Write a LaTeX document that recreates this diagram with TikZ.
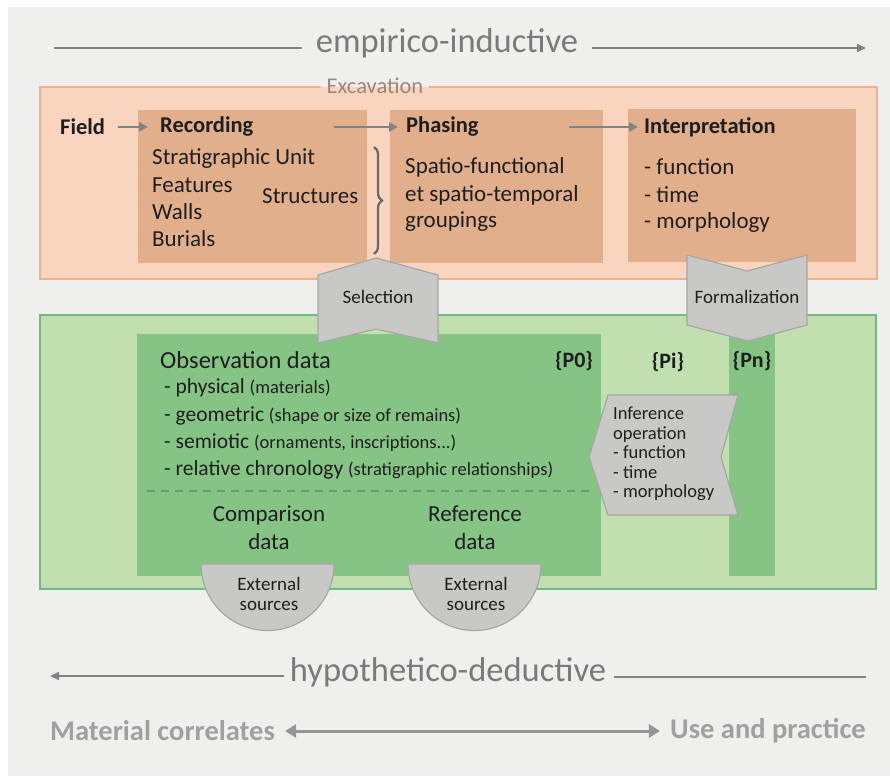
\documentclass[tikz,border=0pt]{standalone}
\usepackage{fontspec}
\setmainfont{Carlito}
\usetikzlibrary{decorations.pathreplacing,arrows.meta}
\definecolor{bgc}{HTML}{EFEFEE}
\definecolor{peach}{HTML}{F9D5BF}
\definecolor{peachline}{HTML}{EDB190}
\definecolor{tan}{HTML}{E2AF8C}
\definecolor{lgreen}{HTML}{C2DFAF}
\definecolor{greenline}{HTML}{72BA7E}
\definecolor{dgreen}{HTML}{86C486}
\definecolor{shapegray}{HTML}{C8C9C6}
\definecolor{shapeline}{HTML}{A6A7A5}
\definecolor{arrgray}{HTML}{828282}
\definecolor{biggray}{HTML}{7A7A7A}
\definecolor{lightgray}{HTML}{A0A0A0}
\definecolor{txt}{HTML}{1E1E1E}
\definecolor{exc}{HTML}{A08474}
\definecolor{dashc}{HTML}{679C6E}
\newcommand{\fs}[1]{\fontsize{#1}{#1}\selectfont}
\begin{document}
\begin{tikzpicture}[x=1pt,y=-1pt,
  lbl/.style={font=\fs{23}, text=txt, inner sep=0pt, anchor=west},
  hd/.style={font=\fs{22.5}\bfseries, text=txt, inner sep=0pt, anchor=west},
  obs/.style={font=\fs{21.5}, text=txt, inner sep=0pt, anchor=west},
  ctr/.style={font=\fs{23}, text=txt, inner sep=0pt, align=center, text depth=0pt},
  pp/.style={font=\fs{22}\bfseries, text=txt, inner sep=0pt},
  shp/.style={fill=shapegray, draw=shapeline, line width=1.2pt, line join=miter},
  arr/.style={draw=arrgray, line width=2.5pt, -{Triangle[length=9pt,width=9pt]}},
  big/.style={font=\fs{34.5}, text=biggray, inner sep=0pt},
  side/.style={font=\fs{28.5}\bfseries, text=lightgray, inner sep=0pt},
  gline/.style={draw=arrgray, line width=2pt},
  ext/.style={font=\fontsize{19}{20}\selectfont, text=txt, inner sep=0pt, align=center}
]
\useasboundingbox (0,0) rectangle (890,776);
\fill[white] (0,0) rectangle (890,776);
\fill[bgc] (8,7) rectangle (890,776);

% top
\node[big] (emp) at (447,43) {empirico-inductive};
\coordinate (eL) at (54,48);
\coordinate (eR) at (866,48);
\draw[gline] (eL) -- ([xshift=-14pt]emp.west |- eL);
\draw[gline, -{Triangle[length=9pt,width=8pt]}] ([xshift=14pt]emp.east |- eR) -- (eR);

% excavation
\fill[peach] (40,87) rectangle (877,279);
\node[font=\fs{22.5}, text=exc, inner sep=0pt] (excl) at (375,86) {Excavation};
\draw[peachline, line width=1.3pt] ([xshift=-6pt]excl.west |- 0,87) -- (40,87) -- (40,279) -- (877,279) -- (877,87) -- ([xshift=6pt]excl.east |- 0,87);
\fill[tan] (138,110) rectangle (367,263);
\fill[tan] (390,110) rectangle (603,263);
\fill[tan] (628,109) rectangle (856,262);

\node[hd] (field) at (60,127) {Field};
\node[hd] (rec) at (160,127) {Recording};
\node[hd] (pha) at (406,127) {Phasing};
\node[hd] (int) at (644,127) {Interpretation};
\draw[arr, shorten <=13pt, shorten >=12pt] (field.east) -- (rec.west);
\draw[arr, shorten <=80pt, shorten >=8pt] (rec.east) -- (pha.west);
\draw[arr, shorten <=90pt, shorten >=6pt] (pha.east) -- (int.west);

\node[lbl] (su) at (152,158) {Stratigraphic Unit};
\node[lbl] (fe) at (152,185) {Features};
\node[lbl] (wa) at (152,212) {Walls};
\node[lbl] (bu) at (152,239) {Burials};
\node[lbl] (st) at (262,196) {Structures};
\coordinate (brT) at (374,147);
\coordinate (brB) at (374,254);
\draw[decorate, decoration={brace, amplitude=8pt}, draw=arrgray!80!black, line width=2.2pt] (brT) -- (brB);

\node[lbl] (p1) at (405,167) {Spatio-functional};
\node[lbl] (p2) at (405,195) {et spatio-temporal};
\node[lbl] (p3) at (405,222) {groupings};
\node[lbl] (i1) at (644,167) {- function};
\node[lbl] (i2) at (644,195) {- time};
\node[lbl] (i3) at (644,222) {- morphology};

% green
\fill[lgreen] (40,315) rectangle (876,589);
\draw[greenline, line width=1.3pt] (40,315) rectangle (876,589);
\fill[dgreen] (137,334) rectangle (601,576);
\fill[dgreen] (729,334) rectangle (775,576);

% selection and formalization
\draw[shp] (318,275) -- (376,258) -- (438,275) -- (438,343) -- (376,329) -- (318,343) -- cycle;
\node[font=\fs{19}, text=txt, inner sep=0pt] (sel) at (378,297) {Selection};
\draw[shp] (687,255) -- (747,271) -- (807,255) -- (807,325) -- (748,341) -- (687,325) -- cycle;
\node[font=\fs{19}, text=txt, inner sep=0pt] (form) at (747,297) {Formalization};

\node[obs, font=\fs{24.5}] (od) at (160,360) {Observation data};
\node[obs] (o1) at (164,388) {- physical {\fs{18.5}(materials)}};
\node[obs] (o2) at (164,416) {- geometric {\fs{18.5}(shape or size of remains)}};
\node[obs] (o3) at (164,443) {- semiotic {\fs{18.5}(ornaments, inscriptions...)}};
\node[obs] (o4) at (164,470) {- relative chronology {\fs{18.5}(stratigraphic relationships)}};
\coordinate (dL) at (147,491);
\coordinate (dR) at (594,491);
\draw[dashc, line width=1.2pt, dash pattern=on 8pt off 6pt] (dL) -- (dR);
\node[ctr] (cmp) at (269,528) {Comparison\\[5pt]data};
\node[ctr] (ref) at (475,528) {Reference\\[5pt]data};

\node[pp] (p0) at (574,361) {\{P0\}};
\node[pp] (pi) at (668,362) {\{Pi\}};
\node[pp] (pn) at (752,361) {\{Pn\}};

% inference
\draw[shp] (608,395) -- (738,395) -- (721,457) -- (738,515) -- (608,515) -- (589,457) -- cycle;
\node[font=\fontsize{18.5}{19.5}\selectfont, text=txt, inner sep=0pt, align=left, anchor=west] (inf) at (613,454) {Inference\\operation\\- function\\- time\\- morphology};

% external sources
\draw[shp] (201,564) arc[start angle=180, end angle=0, radius=66.5] -- cycle;
\draw[shp] (408,564) arc[start angle=180, end angle=0, radius=66.5] -- cycle;
\node[ext] (ex1) at (269,594) {External\\sources};
\node[ext] (ex2) at (476,594) {External\\sources};

% bottom
\node[big] (hyp) at (448,672) {hypothetico-deductive};
\coordinate (hL) at (50,676);
\coordinate (hR) at (866,677);
\draw[gline, -{Triangle[length=9pt,width=8pt]}] ([xshift=-6pt]hyp.west |- hL) -- (hL);
\draw[gline] ([xshift=8pt]hyp.east |- hR) -- (hR);

\node[side, anchor=west] (mc) at (50,731) {Material correlates};
\node[side, anchor=east] (up) at (866,731) {Use and practice};
\draw[draw=arrgray!85, line width=3pt, {Triangle[length=11pt,width=13pt]}-{Triangle[length=11pt,width=13pt]}, shorten <=10pt, shorten >=10pt] (mc.east) -- (up.west);
\end{tikzpicture}
\end{document}
